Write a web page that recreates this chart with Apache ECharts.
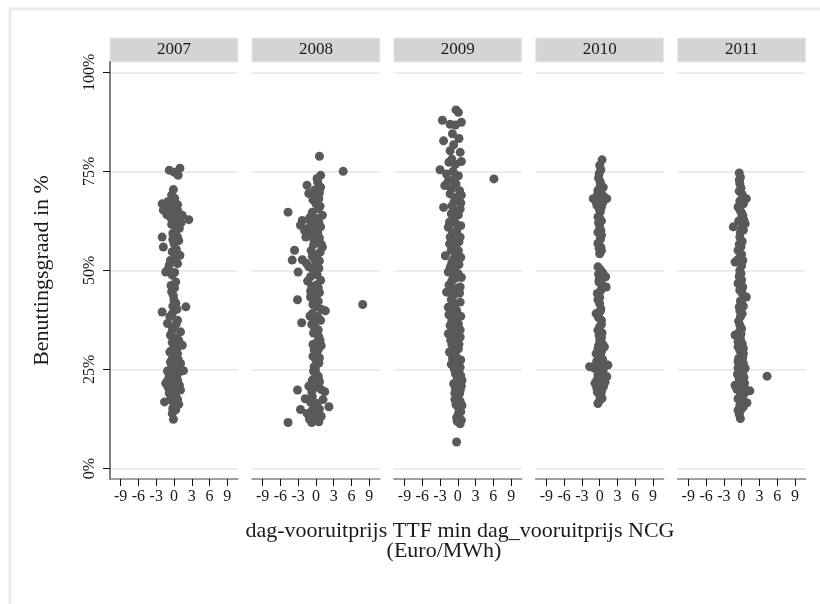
<!DOCTYPE html>
<html><head><meta charset="utf-8">
<script src="https://cdn.jsdelivr.net/npm/echarts@6/dist/echarts.min.js"></script>
<style>html,body{margin:0;padding:0;background:#fff}#c{width:820px;height:604px}</style>
</head><body><div id="c"></div><script>
const years = ['2007','2008','2009','2010','2011'];
const xTicks = [-9,-6,-3,0,3,6,9];
const yTicks = [0,25,50,75,100];
const yTitle = 'Benuttingsgraad in %';
const xTitle1 = 'dag-vooruitprijs TTF min dag_vooruitprijs NCG';
const xTitle2 = '(Euro/MWh)';

const pts2007 = [[-0.8,75.3],[0,74.8],[1,75.8],[0.7,74],[-0.1,70.4],[-0.4,69],[0.1,68.2],[-2,66.8],[-1.8,65.2],[-0.6,66],[0.6,65.2],[1.4,63.9],[2.5,62.8],[0.3,62.6],[0,61.4],[-0.3,64.5],[0.9,64.2],[-1,67.4],[0.2,67],
[0.6,58.4],[-2,58.4],[-1.8,55.9],[0,56.8],[1,53.8],[-0.3,54.7],[0.6,51.7],[-0.8,51.3],[-1.4,49.6],[-0.3,48.8],[0.3,47.1],[0.3,60],[-0.2,59.3],[0.8,57.5],[0.4,55.3],[-0.6,52.5],[-1,50.3],[0.1,49.5],
[-0.4,44.6],[0,42.5],[2,40.8],[-2,39.5],[-0.3,39.1],[-1.1,36.6],[0.6,37.4],[-0.1,43.6],[0.3,41.7],[0.5,40.2],[-0.7,38.3],[0,35.8],
[1.1,34.5],[-0.6,33.7],[0.8,32.4],[1.4,31.1],[-0.3,29.9],[0.3,28.2],[-0.6,26.9],[1.1,26.5],[0,24.8],[1.6,24.7],[-1.4,21.5],[0.6,22.3],[-0.6,20.2],[1.1,19.8],[-1.6,16.8],[0,16.4],[-0.3,13.9],[-0.1,12.4],[0.3,18.2],[-0.8,19],[0.2,33],[-0.3,31.8],[0.5,30.5],[-0.2,28.8],[0.7,27.5],[-0.4,25.8],[0.4,25.5],[-0.8,23.5],[0.2,23.4],[-1,22.4],[0.9,21],[-0.2,21],[0.4,20.5],[-0.5,18],[0.6,17.5],[-0.2,15.2],[0.3,14.8],
[-0.5,63.2],[0.6,66.6],[-1.2,64],[0.2,65.8],[1.2,62],[-0.4,61.6],[0.9,60.6],[-0.2,57.8],[0.3,52.9],[-0.5,46.2],[0.1,45.6],[-0.2,41],[0.4,36.6],[-0.3,35],[0.2,30.2],[-0.7,29.4],[0.6,29],[-0.3,27.6],[0.2,26.1],[-1.1,24.6],[0.7,24],[-0.4,22.2],[0.3,21.8],[-1,20.5],[0.2,19.4],[-0.4,17.2],[0.8,16.2]];

const pts2008 = [[0.6,78.8],[4.6,75],[0.8,74],[0.2,73.2],[-1.5,71.5],[0.8,71],[-1.2,69.4],[0.5,68.1],[0,66.8],[-4.7,64.7],[-0.6,64.7],[1.1,63.9],[-2.3,62.6],[-2.6,61.4],[-1.5,60.5],[-0.6,61],[0.5,62.2],[-1.7,58.4],[-0.3,57.6],[1.1,55.9],[0.2,53.8],[-3.6,55.1],[-4,52.6],[-2.3,52.7],[-3,49.6],[-1.2,50.9],[0.5,50.5],[-0.9,48.4],[0.8,47.5],[-0.3,45],[-3.1,42.6],[-0.9,43.3],[7.9,41.4],[1.6,39.8],[0.2,40.8],[-0.6,39.1],[-2.4,36.8],[-0.3,35.8],[0.8,37.4],[0.5,33.2],[0,31.6],[-0.3,29.9],[0,27.4],[-0.3,25.7],[0,24],[-0.6,22.3],[0.5,21.5],[-3.1,19.8],[1.5,19.4],[-0.6,18.1],[0.2,16.4],[2.2,15.6],[-2.6,14.9],[-1.5,13.9],[0,13.1],[-0.7,11.6],[-4.7,11.6],[0.5,11.8],
[0.3,72.3],[-0.2,70.3],[0.6,69.6],[-0.5,67.8],[0.4,65.6],[-1,63.4],[0.2,63.1],[-1.9,60],[0.3,59.5],[-1,59],[0.6,58.2],[-0.4,56.5],[0.5,57],[-0.8,55],[0.7,54.6],[-0.2,52.8],[0.3,51.8],[-1.6,51.8],[-0.4,49.8],[0.2,48.9],[-1.4,47.3],[0.1,46.3],[-0.7,46],[0.6,44.4],[-0.2,43.7],[0.4,42.2],[-0.5,41.4],[0.9,40.2],[-1,38.5],[0.3,38.3],[-0.1,37],[0.4,35],[-0.4,34.2],[0.7,32.4],[-0.2,30.8],[0.4,30],[0.2,28.6],[-0.5,28.3],[0.5,26.6],[-0.1,25.1],[0.4,23.3],[-0.2,22.8],[-1.2,20.8],[0.2,20.6],[0.9,19.9],[-1.8,17.6],[1.2,17.4],[-0.9,16.7],[0.6,15],[-0.7,14.5],[0.9,13.2],[-1.1,12.5],
[-0.1,69],[0.7,66.2],[-0.9,62.3],[0.8,61],[-0.1,59.9],[0.9,56.6],[-0.6,53.6],[0.6,52.4],[-0.1,51.2],[0.4,45.6],[-0.9,44.8],[0.1,41.8],[-0.7,36.4],[0.3,33.7],[0.9,31],[-0.5,31.3],[0.6,27.9],[-0.4,24.5],[0.6,22],[-0.7,19.3],[-0.3,15.5],[0.3,14.2]];

const pts2009 = [[-0.3,90.5],[0.1,89.9],[-2.6,87.9],[-1.3,86.9],[-0.4,86.7],[0.6,87.4],[-2.4,82.7],[-0.7,81.7],[0.4,79.8],[-1.3,80.2],[-1,78.1],[-0.4,76.8],[-3,75.4],[-1.9,74.3],[0.1,73.9],[6.1,73.1],[-2.2,71.4],[-1.6,72.6],[0.3,70.1],[-0.2,68.4],[-2.4,65.9],[0.4,65.5],[-1,66.3],[-0.7,63],[-1.6,60.9],[-0.2,60],[-1.3,58.4],[0.4,58.4],[-0.5,55.8],[-2.1,53.7],[0.1,55],[-1,52.1],[-1.6,49.6],[0.1,49.1],[-1,47.4],[0.4,45.8],[-1.9,44.5],[-0.7,43.7],[-1.6,40.7],[-0.2,39.9],[-1,37.4],[0.1,36.5],[-1.6,34],[-0.4,32.7],[0.4,33.2],[-1.4,29.4],[0.1,30.2],[-0.2,28.1],[0.4,25.6],[-0.4,23.9],[0.7,22.2],[-0.7,21.4],[0.4,19.7],[-0.2,18],[0.7,15.9],[0.1,13.8],[0.4,11.3],[-0.2,6.7],
[-0.9,84.5],[0.2,83.3],[-1.5,77.3],[0.6,77.5],[-0.8,75],[-0.3,71.8],[0.6,69],[-1.3,69.3],[-0.6,67.4],[0.5,67],[-1.1,64.3],[0.1,64],[-0.4,62],[0.5,61.3],[-0.9,59.5],[0.2,57.2],[-1.4,56.7],[-0.3,54.4],[0.5,53.3],[-1.2,51],[0.2,51.5],[-0.5,50.3],[0.6,48.2],[-0.7,48.5],[-1.5,46.3],[-0.2,45.5],[0.3,44.3],[-1.1,42.6],[0.4,42],[-0.5,41.5],[-1.5,38.8],[0.5,38.4],[-0.6,38.2],[-1,35.5],[0.4,35],[-1.2,32.4],[0.2,31.4],[-0.6,30.7],[-0.9,27.8],[0.5,27.4],[-0.3,26.7],[0.2,24.7],[-0.6,25.1],[0.5,23.4],[-0.1,22.7],[0.6,20.8],[-0.4,20.2],[0.3,18.9],[-0.5,17.4],[0.4,17],[-0.3,16.1],[0.2,14.8],[-0.2,12.8],[0.6,12.2],
[-0.6,73],[-1.1,70.6],[-0.4,65],[-1.4,62.2],[-0.7,57.6],[-1.1,55.1],[-0.6,53],[-1.3,50.5],[-0.4,48],[-1.2,45.1],[-0.9,40.3],[-0.4,36.8],[-1.3,36.1],[-0.5,34.4],[-1,31.3],[-0.5,29.1],[-1.1,26.3],[0.1,21],[-0.5,19],[0.5,14.3],[-0.1,11.9]];

const pts2010 = [[0.4,77.9],[0,76.5],[-0.1,74.4],[0.1,72.3],[-0.3,70.2],[0.6,71],[-1.1,68.1],[1.2,68.1],[0,67.7],[0.3,66],[-0.3,63.5],[0,61],[0.3,58.9],[-0.3,56.8],[0,54.2],[-0.3,50.9],[1,48.4],[0.3,46.7],[1.1,45.8],[-0.4,44.2],[0,41.6],[-0.6,39.1],[0.3,37.4],[-0.3,34.9],[0,32.4],[0.8,30.7],[-0.6,29],[-1.7,25.7],[1.4,26.1],[0,24.4],[1.2,23.2],[-0.8,21.5],[0.6,20.6],[0,18.5],[-0.3,16.4],
[0.2,75.4],[-0.2,73.3],[0.3,69.3],[-0.4,69],[0.5,67],[-0.5,66.5],[0.1,64.8],[0.3,62.5],[-0.2,62],[0.2,60],[-0.3,59.6],[0.1,57.8],[0.2,55.8],[-0.1,55.5],[0.3,55],[0.1,50.2],[-0.2,49],[0.5,49.4],[-0.1,47.5],[0.2,45],[0,43.2],[-0.3,42.6],[0.2,40.3],[-0.2,38.1],[0.3,36.4],[0,35.8],[-0.1,33.6],[0.3,33],[0.5,31.4],[-0.2,31],[0.3,29.5],[-0.1,28.2],[0.5,27.5],[-0.5,27],[0.2,26.5],[-0.9,25.3],[0.6,25],[-0.3,23.6],[0.4,22.6],[-0.2,22.5],[0.9,21.8],[-0.5,20.3],[0.3,19.5],[-0.4,19.3],[0.4,17.7],[0,17.2],
[-0.6,67.3],[0.7,68.6],[0.1,71.4],[-0.1,65.5],[0,63.2],[0.1,58],[-0.1,47],[0.1,39.7],[0.4,34.2],[-0.3,30.2],[0.1,28.8],[-0.6,26.1],[0.3,24],[-0.5,22.2],[0.6,20.8],[0.2,18.9]];

const pts2011 = [[-0.4,74.6],[-0.3,71.9],[0.8,68.1],[-0.6,66],[0.2,63.9],[0.6,61.8],[-1.4,61],[-0.3,58.4],[-0.6,55.1],[-1.1,52.1],[-0.3,50],[-0.6,46.7],[0.8,43.3],[-0.4,40.8],[-0.2,38.3],[-0.3,36.2],[-1.1,33.7],[-0.6,30.7],[0.3,29],[-0.6,26.9],[0.6,25.3],[4.3,23.3],[-1.1,21],[1.4,19.6],[-0.3,18.1],[0.9,16.6],[-0.6,14.7],[-0.2,12.6],
[-0.2,73.5],[-0.4,72.8],[-0.1,70.8],[-0.4,70],[0.1,69.2],[-0.3,67.5],[0.3,66.8],[-0.2,65],[0,64.5],[0.4,62.7],[-0.5,62.4],[0,60.5],[-0.2,59.6],[0.1,57.3],[-0.4,56.6],[0,54],[-0.2,53.3],[-0.6,52.8],[0,51.2],[-0.1,49.2],[-0.4,48.4],[0,47.6],[0.2,45.8],[-0.3,45],[0.1,44.2],[-0.2,42.3],[0,41.6],[-0.3,39.8],[0.1,39.1],[-0.5,37.2],[0,35.3],[-0.4,34.5],[-0.2,32.8],[-0.6,32],[0.1,31.5],[-0.3,29.8],[0.2,28],[-0.5,27.8],[0,26.1],[-0.3,24.6],[-0.7,23.8],[0.2,24],[-0.4,22.6],[0,22],[0.5,21.5],[-0.8,20],[0.3,20.3],[-0.2,19.3],[0.4,18.8],[-0.6,17.6],[0.2,17.2],[-0.3,16],[0.1,15.4],[-0.4,13.7],
[0.2,67.4],[-0.1,63],[0.3,60.2],[-0.1,56],[0.2,52.5],[-0.3,48.9],[0.3,41],[-0.1,34],[0.3,30.3],[0.3,26.5],[-0.6,25.4],[0.4,23],[-0.4,21.2],[0.6,19.9],[-0.1,17.9],[0.3,15.6],[-0.2,14.6]];

const panels = [pts2007, pts2008, pts2009, pts2010, pts2011];

const FONT = '"Liberation Serif","Times New Roman",serif';
const L0 = 110, STEP = 141.9, W = 128, TOP = 62, H = 417;
const TXT = '#1a1a1a';

const grid = [], xAxis = [], yAxis = [], series = [], graphic = [];
graphic.push({type:'rect', z:-10, shape:{x:10,y:9,width:840,height:640}, style:{fill:'none', stroke:'#ebebeb', lineWidth:3}, silent:true});
years.forEach((yr, i) => {
  const left = L0 + i * STEP;
  grid.push({left: left, top: TOP, width: W, height: H, outerBoundsMode: 'none', containLabel: false});
  xAxis.push({
    type: 'value', gridIndex: i, min: -10.8, max: 10.8,
    axisLine: {show: true, onZero: false, lineStyle: {color: '#808080', width: 1.5}},
    axisTick: {show: true, customValues: xTicks, length: 7, lineStyle: {color: '#111', width: 1}},
    axisLabel: {show: true, customValues: xTicks, fontFamily: FONT, fontSize: 16, color: TXT, margin: 10, hideOverlap: false},
    splitLine: {show: false}
  });
  const first = i === 0;
  yAxis.push({
    type: 'value', gridIndex: i, min: -2.65, max: 102.6,
    name: first ? yTitle : '', nameLocation: 'middle', nameGap: 57,
    nameTextStyle: {fontFamily: FONT, fontSize: 22, color: TXT},
    axisLine: {show: first, onZero: false, lineStyle: {color: '#808080', width: 2}},
    axisTick: {show: first, customValues: yTicks, length: 7, lineStyle: {color: '#111', width: 1}},
    axisLabel: {show: first, customValues: yTicks, rotate: 90, formatter: v => v + '%', fontFamily: FONT, fontSize: 16, color: TXT, margin: 12},
    splitLine: {show: true, lineStyle: {color: '#e6e6e6', width: 1.5}}
  });
  series.push({
    type: 'scatter', xAxisIndex: i, yAxisIndex: i, data: panels[i],
    symbol: 'circle', symbolSize: 9, silent: true,
    itemStyle: {color: '#595959', opacity: 1}
  });
  graphic.push({type:'rect', silent:true, shape:{x:left, y:38, width:W, height:24},
    style:{fill:'#d4d4d4', stroke:'#e3ebef', lineWidth:1}});
  graphic.push({type:'text', silent:true, x:left + W/2, y:50,
    style:{text: yr, fontFamily: FONT, fontSize: 17, fill: TXT, align:'center', verticalAlign:'middle'}});
});
graphic.push({type:'text', silent:true, x:460, y:531, style:{text:xTitle1, fontFamily:FONT, fontSize:22, fill:TXT, align:'center', verticalAlign:'middle'}});
graphic.push({type:'text', silent:true, x:444, y:551, style:{text:xTitle2, fontFamily:FONT, fontSize:22, fill:TXT, align:'center', verticalAlign:'middle'}});

const chart = echarts.init(document.getElementById('c'), null, {renderer: 'canvas'});
chart.setOption({animation: false, backgroundColor: '#fff', grid, xAxis, yAxis, series, graphic});
</script></body></html>
